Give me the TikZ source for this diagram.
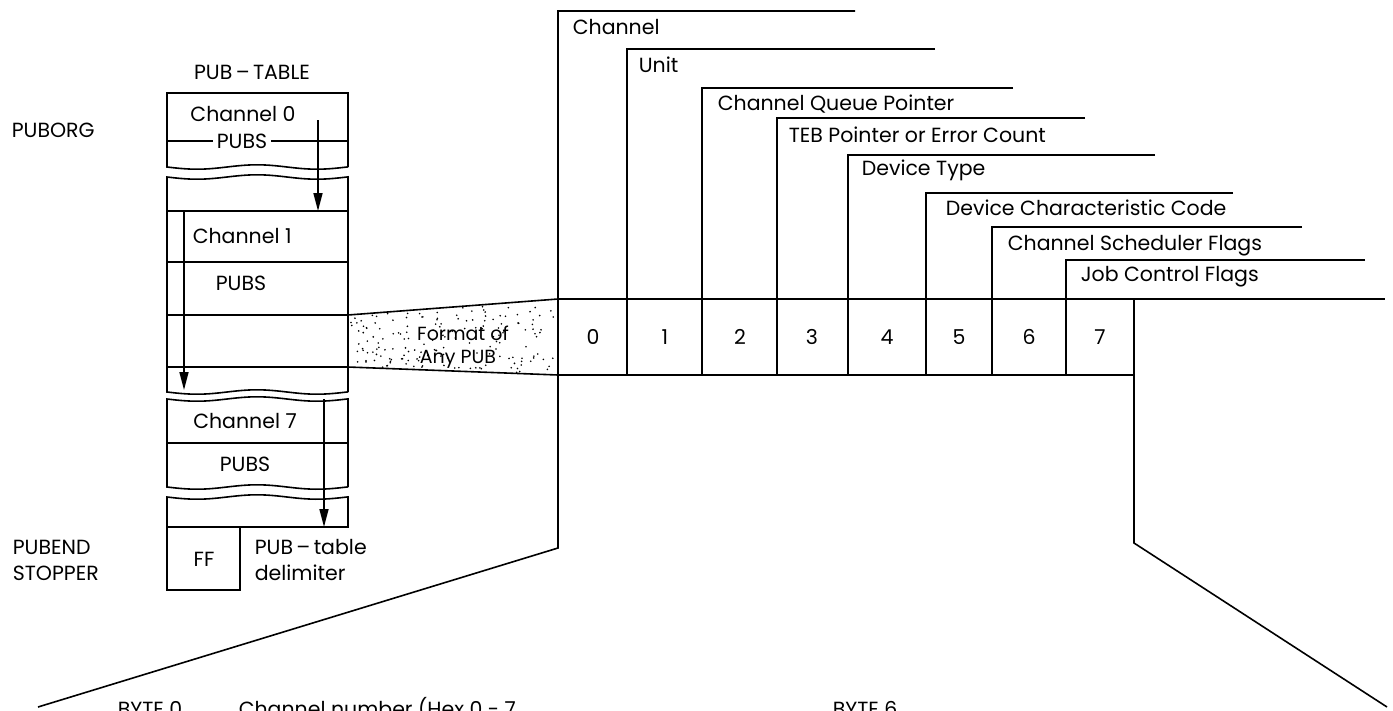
\documentclass[tikz,border=0pt]{standalone}
\usepackage{fontspec}
\setmainfont{Poppins}
\usetikzlibrary{arrows.meta}
\begin{document}
\begin{tikzpicture}[x=1pt,y=-1pt,line width=1.6pt,
  lbl/.style={inner sep=0pt,font=\fontsize{20.5}{22}\selectfont},
  arr/.style={-{Triangle[length=18pt,width=9pt]},line width=1.6pt}]
\useasboundingbox (0,0) rectangle (1393,710);
% ---------- left labels
\node[lbl] (pubtable) at (252,72) {PUB\,–\,TABLE};
\node[lbl,anchor=west] (puborg) at (11,130) {PUBORG};
\node[lbl,anchor=west] (pubend) at (12,547) {PUBEND};
\node[lbl,anchor=west] (stopper) at (12,573) {STOPPER};
% ---------- block 1
\draw (348,167) -- (348,93) -- (167,93) -- (167,167)
  -- plot[domain=167:348,samples=40] (\x,{167+2.2*sin((\x-167)*3)});
\draw (167,141) -- (348,141);
\node[lbl] (ch0) at (243,114) {Channel 0};
\node[lbl,fill=white,inner xsep=4pt,inner ysep=2pt] (pubs0) at (242,141) {PUBS};
% ---------- block 2
\draw plot[domain=167:348,samples=40] (\x,{177+2.2*sin((\x-167)*3)})
  -- (348,392) -- plot[domain=348:167,samples=40] (\x,{392+2.2*sin((\x-167)*3)}) -- cycle;
\foreach \yy in {211,262,315,367} \draw (167,\yy) -- (348,\yy);
\node[lbl,anchor=west] (ch1) at (192,236) {Channel 1};
\node[lbl,anchor=west] (pubs1) at (215,283) {PUBS};
% ---------- block 3
\draw plot[domain=167:348,samples=40] (\x,{399+2.2*sin((\x-167)*3)})
  -- (348,487) -- plot[domain=348:167,samples=40] (\x,{487+2.2*sin((\x-167)*3)}) -- cycle;
\draw (167,443) -- (348,443);
\node[lbl] (ch7) at (245,421) {Channel 7};
\node[lbl] (pubs7) at (245,464) {PUBS};
% ---------- block 4
\draw plot[domain=167:348,samples=40] (\x,{497+2.2*sin((\x-167)*3)})
  -- (348,527) -- (167,527) -- cycle;
\draw (167,527) rectangle (240,590);
\node[lbl] (ff) at (204,559) {FF};
\node[lbl,anchor=west] (delim1) at (254,547) {PUB\,–\,table};
\node[lbl,anchor=west] (delim2) at (254,573) {delimiter};
% ---------- chain arrows
\coordinate (a1s) at (318,120); \coordinate (a1e) at (318,211);
\coordinate (a2s) at (184,211); \coordinate (a2e) at (184,390);
\coordinate (a3s) at (324,399); \coordinate (a3e) at (324,527);
\draw[arr] (a1s) -- (a1e);
\draw[arr] (a2s) -- (a2e);
\draw[arr] (a3s) -- (a3e);
% ---------- shaded trapezoid
\pgfmathsetseed{7}
\foreach \i in {1,...,170}{
  \pgfmathsetmacro\u{rnd}\pgfmathsetmacro\v{rnd}
  \fill ({351+205*\u},{316-16*\u+(50+24*\u)*\v}) circle (0.9);
}
\draw (348,315) -- (558,299);
\draw (348,367) -- (558,375);
\node[lbl,font=\fontsize{19}{21}\selectfont] (fmt1) at (463,333) {Format of};
\node[lbl,font=\fontsize{19}{21}\selectfont] (fmt2) at (458,359) {Any PUB};
% ---------- byte row
\draw (558,299) -- (1385,299);
\draw (558,375) -- (1134,375);
\draw (855,11) -- (558,11) -- (558,548) -- (38,707);
\draw (1134,299) -- (1134,543) -- (1387,707);
\foreach \n/\cx in {0/593,1/665,2/740,3/812,4/887,5/959,6/1029,7/1100}
  \node[lbl] (b\n) at (\cx,337) {\n};
% ---------- field brackets
\foreach \vx/\top/\rx/\tx/\ty/\txt/\nm in {
  627/49/935/638/65/Unit/fu,
  702/88/1013/717/104/Channel Queue Pointer/fq,
  777/118/1085/788/135/TEB Pointer or Error Count/ft,
  848/155/1155/861/170/Device Type/fd,
  926/193/1233/945/208/Device Characteristic Code/fc,
  992/227/1302/1007/246/Channel Scheduler Flags/fs,
  1066/260/1365/1080/277/Job Control Flags/fj}{
  \draw (\rx,\top) -- (\vx,\top) -- (\vx,375);
  \node[lbl,anchor=west] (\nm) at (\tx,\ty) {\txt};
}
\node[lbl,anchor=west] (fch) at (572,27) {Channel};
% ---------- cut-off bottom texts (cut by the page edge as in the reference)
\node[lbl,anchor=base west] (byte0) at (117,716) {BYTE 0};
\node[lbl,anchor=base west] (byte0t) at (238,716) {Channel number (Hex 0 - 7};
\node[lbl,anchor=base west] (byte6) at (832,716) {BYTE 6};
\end{tikzpicture}
\end{document}
